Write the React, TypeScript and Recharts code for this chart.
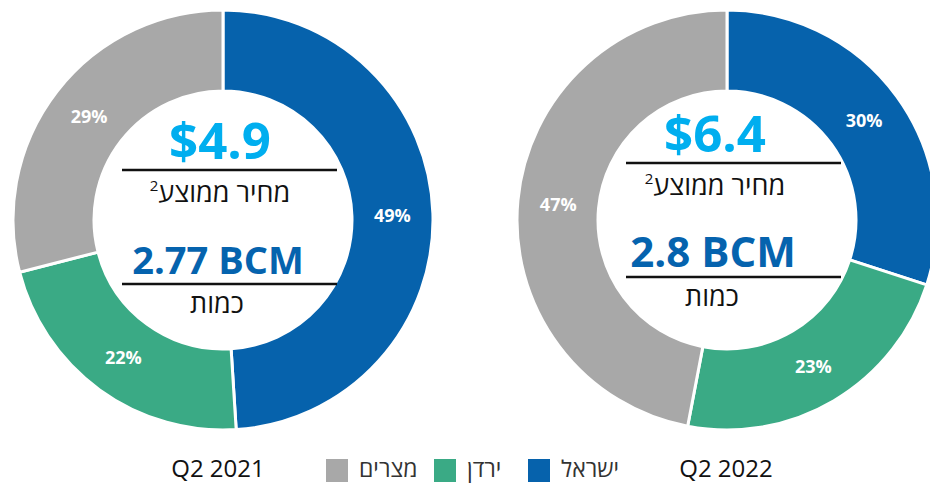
import React from 'react';
import { PieChart, Pie, Cell } from 'recharts';

const countries = ['ישראל', 'ירדן', 'מצרים'];
const colors = ['#0662AC', '#3AAA85', '#A8A8A8'];
const share2021 = [49, 22, 29];
const share2022 = [30, 23, 47];
const periods = ['Q2 2021', 'Q2 2022'];
const prices = ['$4.9', '$6.4'];
const volumes = ['2.77 BCM', '2.8 BCM'];

const data2021 = countries.map((name, i) => ({ name, value: share2021[i] }));
const data2022 = countries.map((name, i) => ({ name, value: share2022[i] }));

const FONT = '"Open Sans", "Liberation Sans", sans-serif';
const RADIAN = Math.PI / 180;

const renderLabel = (props: any) => {
  const { cx, cy, midAngle, innerRadius, outerRadius, value } = props;
  const r = (innerRadius + outerRadius) / 2;
  const x = cx + r * Math.cos(-midAngle * RADIAN);
  const y = cy + r * Math.sin(-midAngle * RADIAN);
  return (
    <text
      x={x}
      y={y}
      fill="#fff"
      fontFamily={FONT}
      fontWeight={700}
      fontSize={18}
      textAnchor="middle"
      dominantBaseline="central"
    >
      {value}%
    </text>
  );
};

// center texts, one block per donut
const CenterText = ({ cx, dx, price, volume, bcmSize, top }: any) => (
  <g fontFamily={FONT}>
    <text x={cx + dx} y={top} textAnchor="middle" fill="#00AEEF" fontWeight={700} fontSize={51}>
      {price}
    </text>
    <line x1={cx - 101} x2={cx + 114} y1={top + 11} y2={top + 11} stroke="#111" strokeWidth={2.5} />
    <text x={cx + dx} y={top + 43} textAnchor="middle" direction="rtl" fill="#111" fontSize={27}>
      מחיר ממוצע
      <tspan fontSize={15} dy={-11}>2</tspan>
    </text>
    <text x={cx + dx - 2} y={top + 115} textAnchor="middle" fill="#0563AE" fontWeight={700} fontSize={bcmSize}>
      {volume}
    </text>
    <line x1={cx - 101} x2={cx + 114} y1={top + 125} y2={top + 125} stroke="#111" strokeWidth={2.5} />
    <text x={cx + dx - 3} y={top + 154} textAnchor="middle" direction="rtl" fill="#111" fontSize={27}>
      כמות
    </text>
  </g>
);

const legendSquareX = [326, 434, 528];

export default function App() {
  return (
    <div
      style={{
        position: 'absolute',
        left: 0,
        top: 0,
        width: 930,
        height: 483,
        overflow: 'hidden',
        background: '#fff',
      }}
    >
      <PieChart width={930} height={483} margin={{ top: 0, right: 0, bottom: 0, left: 0 }}>
        <Pie
          data={data2021}
          dataKey="value"
          cx={223}
          cy={220}
          innerRadius={129}
          outerRadius={210}
          startAngle={90}
          endAngle={-270}
          stroke="#fff"
          strokeWidth={3}
          label={renderLabel}
          labelLine={false}
          isAnimationActive={false}
        >
          {data2021.map((d, i) => (
            <Cell key={d.name} fill={colors[i]} />
          ))}
        </Pie>
        <Pie
          data={data2022}
          dataKey="value"
          cx={727}
          cy={220}
          innerRadius={129}
          outerRadius={210}
          startAngle={90}
          endAngle={-270}
          stroke="#fff"
          strokeWidth={3}
          label={renderLabel}
          labelLine={false}
          isAnimationActive={false}
        >
          {data2022.map((d, i) => (
            <Cell key={d.name} fill={colors[i]} />
          ))}
        </Pie>
      </PieChart>

      <svg width={930} height={483} style={{ position: 'absolute', left: 0, top: 0, pointerEvents: 'none' }}>
        <CenterText cx={223} dx={-3} price={prices[0]} volume={volumes[0]} bcmSize={38} top={159} />
        <CenterText cx={727} dx={-12} price={prices[1]} volume={volumes[1]} bcmSize={42} top={152} />
        <g fontFamily={FONT} fill="#111" fontSize={24}>
          <text x={218} y={477} textAnchor="middle">{periods[0]}</text>
          <text x={726} y={477} textAnchor="middle">{periods[1]}</text>
        </g>
        {/* legend: square then name, reading order Israel, Jordan, Egypt from the right */}
        <g fontFamily={FONT} fontSize={23} fill="#333">
          {[2, 1, 0].map((i, k) => (
            <g key={countries[i]}>
              <rect x={legendSquareX[k]} y={459} width={22} height={23} fill={colors[i]} />
              <text x={legendSquareX[k] + 33} y={477} direction="ltr">
                {countries[i]}
              </text>
            </g>
          ))}
        </g>
      </svg>
    </div>
  );
}
